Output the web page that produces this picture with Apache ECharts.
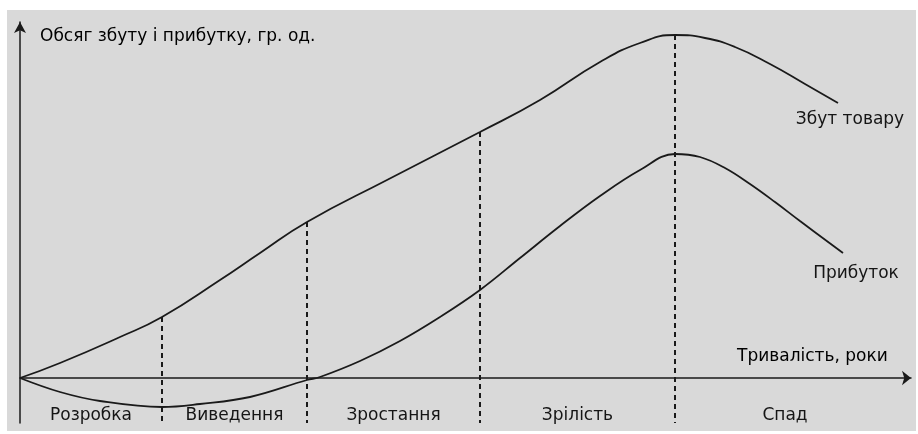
<!DOCTYPE html>
<html>
<head>
<meta charset="utf-8">
<script src="https://cdn.jsdelivr.net/npm/echarts@6/dist/echarts.min.js"></script>
<style>
  html, body { margin: 0; padding: 0; background: #ffffff; }
  #chart { width: 918px; height: 434px; }
</style>
</head>
<body>
<div id="chart"></div>
<script>
// Product life cycle: sales volume and profit over time (conventional units)
const salesX = [0, 40, 100, 142, 200, 240, 287, 367, 460, 520, 580, 620, 655, 685, 715, 750, 785, 818];
const salesY = [0, 15, 41, 61, 98, 125, 156, 198, 246, 278, 316, 335, 343, 340, 331, 314, 294, 275];

const profitX = [0, 40, 80, 142, 180, 230, 287, 300, 340, 380, 420, 460, 500, 540, 580, 620, 655, 680, 705, 730, 755, 780, 823];
const profitY = [0, -14, -23, -29, -26, -19, -2, 1, 17, 37, 61, 88, 120, 152, 182, 208, 224, 221, 210, 194, 176, 157, 125];

// stage boundaries along the time axis and their names
const stageBounds = [0, 142, 287, 460, 655, 875];
const stageNames = ['Розробка', 'Виведення', 'Зростання', 'Зрілість', 'Спад'];

const salesName = 'Збут товару';
const profitName = 'Прибуток';
const yTitle = 'Обсяг збуту і прибутку, гр. од.';
const xTitle = 'Тривалість, роки';

const ink = '#1a1a1a';
const textStyle = { color: '#151515', fontFamily: 'DejaVu Sans, sans-serif', fontSize: 17 };

const zip = (xs, ys) => xs.map((x, i) => [x, ys[i]]);

// dashed drop lines from the sales curve at each inner stage boundary
const dropSeries = stageBounds.slice(1, -1).map(b => {
  const top = salesY[salesX.indexOf(b)];
  return {
    type: 'line',
    data: [[b, top], [b, -45]],
    symbol: 'none',
    silent: true,
    clip: false,
    lineStyle: { color: ink, width: 2, type: [5, 4] },
    z: 1
  };
});

// stage captions centred between neighbouring boundaries
const stageData = stageNames.map((n, i) => ({
  name: n,
  value: [(stageBounds[i] + stageBounds[i + 1]) / 2, -38]
}));

const chart = echarts.init(document.getElementById('chart'), null, { renderer: 'canvas' });
chart.setOption({
  animation: false,
  backgroundColor: '#ffffff',
  graphic: [
    { type: 'rect', z: -100, shape: { x: 7, y: 10, width: 909, height: 421 }, style: { fill: '#d9d9d9' } },
    { type: 'text', left: 40, top: 28, style: Object.assign({ text: yTitle }, textStyle) },
    { type: 'text', left: 737, top: 348, style: Object.assign({ text: xTitle }, textStyle) }
  ],
  grid: { left: 20, right: 7, top: 22, bottom: 11, containLabel: false },
  xAxis: {
    type: 'value', min: 0, max: 891,
    axisLine: { onZero: true, symbol: ['none', 'arrow'], symbolSize: [11, 9], lineStyle: { color: ink, width: 1.5 } },
    axisTick: { show: false }, axisLabel: { show: false }, splitLine: { show: false }
  },
  yAxis: {
    type: 'value', min: -45, max: 356,
    axisLine: { onZero: true, symbol: ['none', 'arrow'], symbolSize: [9, 11], lineStyle: { color: ink, width: 1.5 } },
    axisTick: { show: false }, axisLabel: { show: false }, splitLine: { show: false }
  },
  series: [
    {
      name: salesName, type: 'line', data: zip(salesX, salesY), smooth: 0.5, symbol: 'none',
      lineStyle: { color: ink, width: 1.8 }, z: 3,
      endLabel: { show: true, formatter: salesName, position: 'bottom', align: 'center', distance: 6, offset: [6, 17], ...textStyle }
    },
    {
      name: profitName, type: 'line', data: zip(profitX, profitY), smooth: 0.4, symbol: 'none',
      lineStyle: { color: ink, width: 1.8 }, z: 3,
      endLabel: { show: true, formatter: profitName, position: 'bottom', align: 'center', distance: 6, offset: [7, 21], ...textStyle }
    },
    ...dropSeries,
    {
      type: 'scatter', data: stageData, symbolSize: 0, silent: true,
      itemStyle: { opacity: 1 },
      label: { show: true, position: 'inside', formatter: p => p.name, ...textStyle }
    }
  ]
});
</script>
</body>
</html>
